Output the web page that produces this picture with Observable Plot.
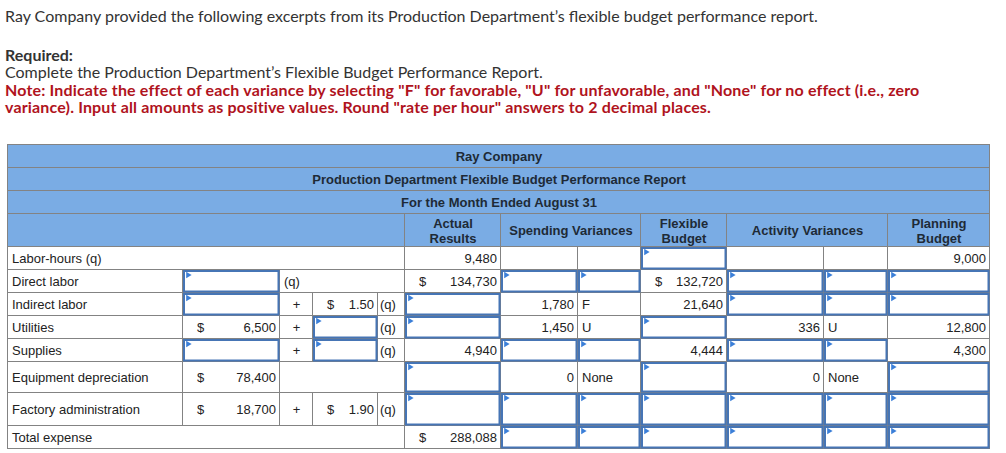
<!DOCTYPE html>
<html>
<head>
<meta charset="utf-8">
<script src="https://cdn.jsdelivr.net/npm/d3@7"></script>
<script src="https://cdn.jsdelivr.net/npm/@observablehq/plot@0.6"></script>
<style>
  html, body { margin: 0; padding: 0; background: #fff; }
  body { width: 1006px; height: 453px; overflow: hidden; position: relative; font-family: Lato, "Open Sans", sans-serif; }
  .line { position: absolute; left: 5px; white-space: nowrap; color: #333; font-size: 16px; line-height: 18px; }
  .bold { font-weight: 700; }
  .red { color: #b0131d; font-weight: 700; letter-spacing: 0.16px; }
  #chart { position: absolute; left: 0; top: 140px; }
</style>
</head>
<body>
<div class="line" style="top:7px">Ray Company provided the following excerpts from its Production Department’s flexible budget performance report.</div>
<div class="line bold" style="top:46px">Required:</div>
<div class="line" style="top:63px">Complete the Production Department’s Flexible Budget Performance Report.</div>
<div class="line red" style="top:81px">Note: Indicate the effect of each variance by selecting "F" for favorable, "U" for unfavorable, and "None" for no effect (i.e., zero</div>
<div class="line red" style="top:98px">variance). Input all amounts as positive values. Round "rate per hour" answers to 2 decimal places.</div>
<div id="chart"></div>
<script>
// ---------- data ----------
const B = "box"; // an answer box to be filled in
const headerTitles = ["Ray Company", "Production Department Flexible Budget Performance Report", "For the Month Ended August 31"];
const columnHeaders = ["Actual\nResults", "Spending Variances", "Flexible\nBudget", "Activity Variances", "Planning\nBudget"];
const rowLabels = ["Labor-hours (q)", "Direct labor", "Indirect labor", "Utilities", "Supplies", "Equipment depreciation", "Factory administration", "Total expense"];
const costFormula = ["none", "variable", "mixed", "mixed", "mixed", "fixed", "mixed", "none"];
const fixedCost = [null, B, B, 6500, B, 78400, 18700, null];
const ratePerHour = [null, null, 1.50, B, B, null, 1.90, null];
const actualResults = [9480, 134730, B, B, 4940, B, B, 288088];
const spendingVariance = [null, B, 1780, 1450, B, 0, B, B];
const spendingEffect = [null, B, "F", "U", B, "None", B, B];
const flexibleBudget = [B, 132720, 21640, B, 4444, B, B, B];
const activityVariance = [null, B, B, 336, B, 0, B, B];
const activityEffect = [null, B, B, "U", B, "None", B, B];
const planningBudget = [9000, B, B, 12800, 4300, B, B, B];
const dollarRow = [false, true, false, false, false, false, false, true];

// ---------- layout (pixels inside the svg) ----------
const OFF = 140;
const colEdges = [7.5, 182.5, 279.5, 312.5, 377.5, 404.5, 500.5, 577.5, 640.5, 726.5, 823.5, 887.5, 989.5];
const rowEdges = [144.5, 167.5, 190.5, 213.5, 246.5, 269.5, 292.5, 315.5, 338.5, 361.5, 392.5, 425.5, 448.5].map(d => d - OFF);

const cells = [];
function cell(row, c0, c1, value, opts = {}) {
  cells.push({
    x1: colEdges[c0], x2: colEdges[c1],
    y1: rowEdges[row], y2: rowEdges[row + 1],
    value, ...opts
  });
}
// header
headerTitles.forEach((t, i) => cell(i, 0, 12, t, {header: true, text: t, anchor: "middle"}));
cell(3, 0, 5, null, {header: true});
const hdrSpans = [[5, 6], [6, 8], [8, 9], [9, 11], [11, 12]];
columnHeaders.forEach((t, i) => cell(3, hdrSpans[i][0], hdrSpans[i][1], t, {header: true, text: t, anchor: "middle"}));

const fmtInt = d3.format(",");
const fmtRate = d3.format(".2f");
function valueCell(row, c0, c1, v, kind, dollar) {
  if (v === B) { cell(row, c0, c1, v, {box: true}); return; }
  if (v === null || v === undefined) { cell(row, c0, c1, null); return; }
  if (typeof v === "number") {
    const text = kind === "rate" ? fmtRate(v) : fmtInt(v);
    cell(row, c0, c1, v, {text, anchor: "end", dollar});
  } else {
    cell(row, c0, c1, v, {text: v, anchor: "start"});
  }
}
rowLabels.forEach((label, i) => {
  const r = i + 4;
  const k = costFormula[i];
  if (k === "none") {
    cell(r, 0, 5, label, {text: label, anchor: "start"});
  } else {
    cell(r, 0, 1, label, {text: label, anchor: "start"});
    valueCell(r, 1, 2, fixedCost[i], "amount", true);
    if (k === "variable") {
      cell(r, 2, 5, "(q)", {text: "(q)", anchor: "start"});
    } else if (k === "fixed") {
      cell(r, 2, 5, null);
    } else {
      cell(r, 2, 3, "+", {text: "+", anchor: "middle"});
      valueCell(r, 3, 4, ratePerHour[i], "rate", true);
      cell(r, 4, 5, "(q)", {text: "(q)", anchor: "start", tight: true});
    }
  }
  const vals = [actualResults[i], spendingVariance[i], spendingEffect[i], flexibleBudget[i], activityVariance[i], activityEffect[i], planningBudget[i]];
  vals.forEach((v, j) => valueCell(r, 5 + j, 6 + j, v, "amount", dollarRow[i]));
});

const texts = cells.filter(d => d.text != null);
const tx = d => d.anchor === "start" ? d.x1 + (d.tight ? 2 : 4) : d.anchor === "end" ? d.x2 - 4 : (d.x1 + d.x2) / 2;
const ty = d => (d.y1 + d.y2) / 2;
const boxes = cells.filter(d => d.box);
const dollars = cells.filter(d => d.dollar);

const textCommon = {x: tx, y: ty, text: "text", fill: "#222", fontSize: 13, lineAnchor: "middle", lineHeight: 1.16};

const chart = Plot.plot({
  width: 1006,
  height: 313,
  margin: 0,
  x: {domain: [0, 1006], range: [0, 1006], axis: null},
  y: {domain: [0, 313], range: [0, 313], axis: null},
  style: {fontFamily: "'Liberation Sans', Arial, sans-serif", background: "#fff"},
  marks: [
    Plot.rect(cells, {x1: "x1", x2: "x2", y1: "y1", y2: "y2", fill: d => d.header ? "#7aace4" : "#fff", stroke: "#838383", strokeWidth: 1}),
    Plot.rect(boxes, {x1: d => d.x1 + 1.5, x2: d => d.x2 - 1, y1: d => d.y1 + 1.5, y2: d => d.y2 - 1, fill: "#fff", stroke: "#4675b5", strokeWidth: 2}),
    Plot.dot(boxes, {x: d => d.x1 + 5, y: d => d.y1 + 5, symbol: "triangle2", rotate: 90, r: 3, fill: "#3b7fd8", stroke: null}),
    Plot.text(texts.filter(d => d.anchor === "start"), {...textCommon, textAnchor: "start"}),
    Plot.text(texts.filter(d => d.anchor === "end"), {...textCommon, textAnchor: "end"}),
    Plot.text(texts.filter(d => d.anchor === "middle" && !d.header), {...textCommon, textAnchor: "middle"}),
    Plot.text(texts.filter(d => d.header), {...textCommon, textAnchor: "middle", fontWeight: "bold", fill: "#1e2a36"}),
    Plot.text(dollars, {x: d => d.x1 + 14, y: ty, text: () => "$", fill: "#222", fontSize: 13, lineAnchor: "middle", textAnchor: "start"})
  ]
});
document.getElementById("chart").appendChild(chart);
</script>
</body>
</html>
